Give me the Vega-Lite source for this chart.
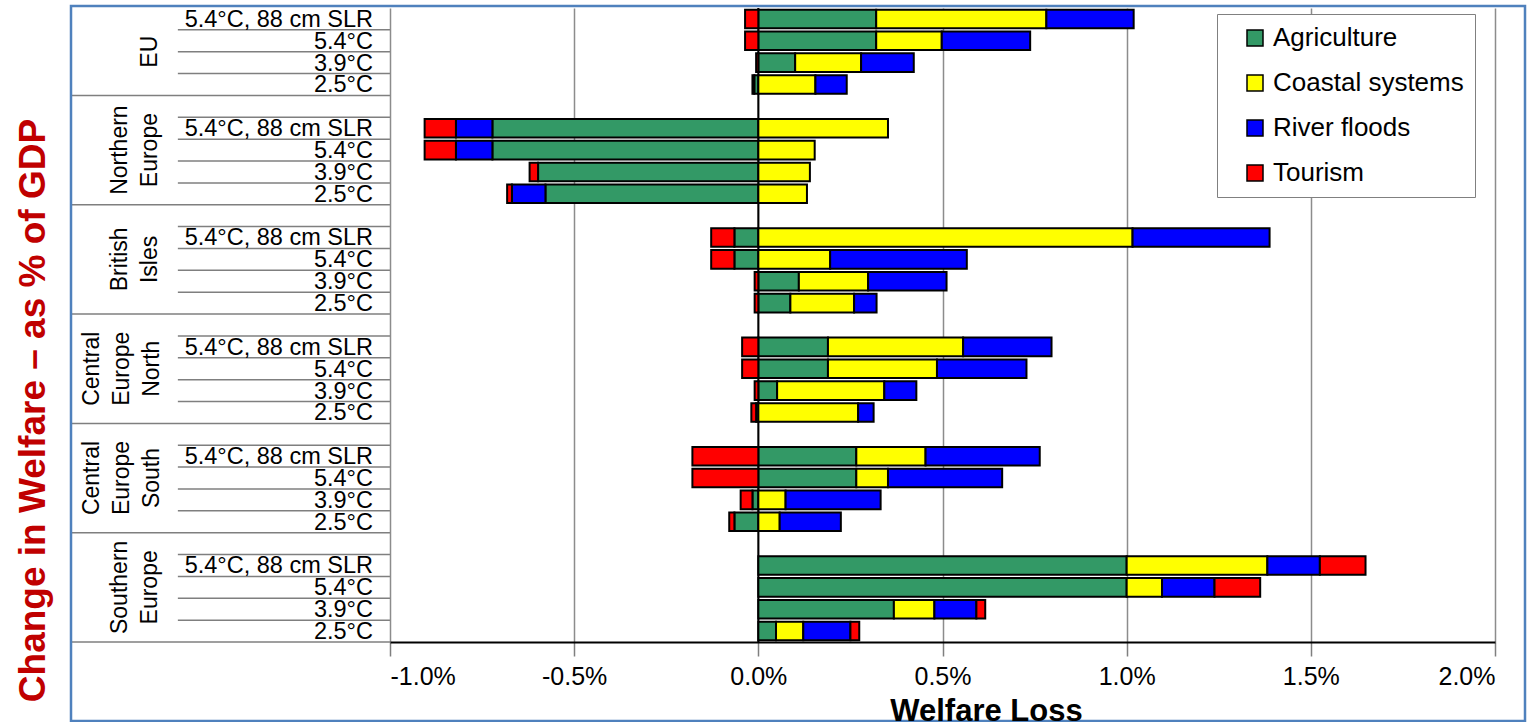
{
"$schema": "https://vega.github.io/schema/vega-lite/v6.json",
"padding": {"left": 14, "top": 4, "right": 0, "bottom": 0},
"background": "white",
"bounds": "flush",
"config": {"font": "Liberation Sans", "view": {"stroke": null}, "concat": {"spacing": 0}},
"data": {"values": [
{"region":"EU","scenario":"5.4°C, 88 cm SLR","sector":"Agriculture","value":0.32},
{"region":"EU","scenario":"5.4°C, 88 cm SLR","sector":"Coastal systems","value":0.462},
{"region":"EU","scenario":"5.4°C, 88 cm SLR","sector":"River floods","value":0.237},
{"region":"EU","scenario":"5.4°C, 88 cm SLR","sector":"Tourism","value":-0.036},
{"region":"EU","scenario":"5.4°C","sector":"Agriculture","value":0.32},
{"region":"EU","scenario":"5.4°C","sector":"Coastal systems","value":0.178},
{"region":"EU","scenario":"5.4°C","sector":"River floods","value":0.24},
{"region":"EU","scenario":"5.4°C","sector":"Tourism","value":-0.036},
{"region":"EU","scenario":"3.9°C","sector":"Agriculture","value":0.10},
{"region":"EU","scenario":"3.9°C","sector":"Coastal systems","value":0.179},
{"region":"EU","scenario":"3.9°C","sector":"River floods","value":0.143},
{"region":"EU","scenario":"3.9°C","sector":"Tourism","value":-0.006},
{"region":"EU","scenario":"2.5°C","sector":"Agriculture","value":-0.011},
{"region":"EU","scenario":"2.5°C","sector":"Coastal systems","value":0.155},
{"region":"EU","scenario":"2.5°C","sector":"River floods","value":0.085},
{"region":"EU","scenario":"2.5°C","sector":"Tourism","value":-0.005},
{"region":"Northern Europe","scenario":"5.4°C, 88 cm SLR","sector":"Agriculture","value":-0.722},
{"region":"Northern Europe","scenario":"5.4°C, 88 cm SLR","sector":"Coastal systems","value":0.352},
{"region":"Northern Europe","scenario":"5.4°C, 88 cm SLR","sector":"River floods","value":-0.099},
{"region":"Northern Europe","scenario":"5.4°C, 88 cm SLR","sector":"Tourism","value":-0.085},
{"region":"Northern Europe","scenario":"5.4°C","sector":"Agriculture","value":-0.722},
{"region":"Northern Europe","scenario":"5.4°C","sector":"Coastal systems","value":0.153},
{"region":"Northern Europe","scenario":"5.4°C","sector":"River floods","value":-0.099},
{"region":"Northern Europe","scenario":"5.4°C","sector":"Tourism","value":-0.085},
{"region":"Northern Europe","scenario":"3.9°C","sector":"Agriculture","value":-0.598},
{"region":"Northern Europe","scenario":"3.9°C","sector":"Coastal systems","value":0.14},
{"region":"Northern Europe","scenario":"3.9°C","sector":"Tourism","value":-0.023},
{"region":"Northern Europe","scenario":"2.5°C","sector":"Agriculture","value":-0.578},
{"region":"Northern Europe","scenario":"2.5°C","sector":"Coastal systems","value":0.132},
{"region":"Northern Europe","scenario":"2.5°C","sector":"River floods","value":-0.091},
{"region":"Northern Europe","scenario":"2.5°C","sector":"Tourism","value":-0.013},
{"region":"British Isles","scenario":"5.4°C, 88 cm SLR","sector":"Agriculture","value":-0.065},
{"region":"British Isles","scenario":"5.4°C, 88 cm SLR","sector":"Coastal systems","value":1.016},
{"region":"British Isles","scenario":"5.4°C, 88 cm SLR","sector":"River floods","value":0.372},
{"region":"British Isles","scenario":"5.4°C, 88 cm SLR","sector":"Tourism","value":-0.063},
{"region":"British Isles","scenario":"5.4°C","sector":"Agriculture","value":-0.065},
{"region":"British Isles","scenario":"5.4°C","sector":"Coastal systems","value":0.195},
{"region":"British Isles","scenario":"5.4°C","sector":"River floods","value":0.371},
{"region":"British Isles","scenario":"5.4°C","sector":"Tourism","value":-0.063},
{"region":"British Isles","scenario":"3.9°C","sector":"Agriculture","value":0.11},
{"region":"British Isles","scenario":"3.9°C","sector":"Coastal systems","value":0.188},
{"region":"British Isles","scenario":"3.9°C","sector":"River floods","value":0.213},
{"region":"British Isles","scenario":"3.9°C","sector":"Tourism","value":-0.01},
{"region":"British Isles","scenario":"2.5°C","sector":"Agriculture","value":0.087},
{"region":"British Isles","scenario":"2.5°C","sector":"Coastal systems","value":0.173},
{"region":"British Isles","scenario":"2.5°C","sector":"River floods","value":0.061},
{"region":"British Isles","scenario":"2.5°C","sector":"Tourism","value":-0.01},
{"region":"Central Europe North","scenario":"5.4°C, 88 cm SLR","sector":"Agriculture","value":0.189},
{"region":"Central Europe North","scenario":"5.4°C, 88 cm SLR","sector":"Coastal systems","value":0.367},
{"region":"Central Europe North","scenario":"5.4°C, 88 cm SLR","sector":"River floods","value":0.24},
{"region":"Central Europe North","scenario":"5.4°C, 88 cm SLR","sector":"Tourism","value":-0.044},
{"region":"Central Europe North","scenario":"5.4°C","sector":"Agriculture","value":0.189},
{"region":"Central Europe North","scenario":"5.4°C","sector":"Coastal systems","value":0.296},
{"region":"Central Europe North","scenario":"5.4°C","sector":"River floods","value":0.243},
{"region":"Central Europe North","scenario":"5.4°C","sector":"Tourism","value":-0.044},
{"region":"Central Europe North","scenario":"3.9°C","sector":"Agriculture","value":0.051},
{"region":"Central Europe North","scenario":"3.9°C","sector":"Coastal systems","value":0.291},
{"region":"Central Europe North","scenario":"3.9°C","sector":"River floods","value":0.087},
{"region":"Central Europe North","scenario":"3.9°C","sector":"Tourism","value":-0.01},
{"region":"Central Europe North","scenario":"2.5°C","sector":"Agriculture","value":-0.006},
{"region":"Central Europe North","scenario":"2.5°C","sector":"Coastal systems","value":0.271},
{"region":"Central Europe North","scenario":"2.5°C","sector":"River floods","value":0.042},
{"region":"Central Europe North","scenario":"2.5°C","sector":"Tourism","value":-0.013},
{"region":"Central Europe South","scenario":"5.4°C, 88 cm SLR","sector":"Agriculture","value":0.266},
{"region":"Central Europe South","scenario":"5.4°C, 88 cm SLR","sector":"Coastal systems","value":0.188},
{"region":"Central Europe South","scenario":"5.4°C, 88 cm SLR","sector":"River floods","value":0.31},
{"region":"Central Europe South","scenario":"5.4°C, 88 cm SLR","sector":"Tourism","value":-0.179},
{"region":"Central Europe South","scenario":"5.4°C","sector":"Agriculture","value":0.266},
{"region":"Central Europe South","scenario":"5.4°C","sector":"Coastal systems","value":0.086},
{"region":"Central Europe South","scenario":"5.4°C","sector":"River floods","value":0.31},
{"region":"Central Europe South","scenario":"5.4°C","sector":"Tourism","value":-0.179},
{"region":"Central Europe South","scenario":"3.9°C","sector":"Agriculture","value":-0.016},
{"region":"Central Europe South","scenario":"3.9°C","sector":"Coastal systems","value":0.074},
{"region":"Central Europe South","scenario":"3.9°C","sector":"River floods","value":0.258},
{"region":"Central Europe South","scenario":"3.9°C","sector":"Tourism","value":-0.032},
{"region":"Central Europe South","scenario":"2.5°C","sector":"Agriculture","value":-0.065},
{"region":"Central Europe South","scenario":"2.5°C","sector":"Coastal systems","value":0.058},
{"region":"Central Europe South","scenario":"2.5°C","sector":"River floods","value":0.166},
{"region":"Central Europe South","scenario":"2.5°C","sector":"Tourism","value":-0.014},
{"region":"Southern Europe","scenario":"5.4°C, 88 cm SLR","sector":"Agriculture","value":1.0},
{"region":"Southern Europe","scenario":"5.4°C, 88 cm SLR","sector":"Coastal systems","value":0.382},
{"region":"Southern Europe","scenario":"5.4°C, 88 cm SLR","sector":"River floods","value":0.1425},
{"region":"Southern Europe","scenario":"5.4°C, 88 cm SLR","sector":"Tourism","value":0.124},
{"region":"Southern Europe","scenario":"5.4°C","sector":"Agriculture","value":1.0},
{"region":"Southern Europe","scenario":"5.4°C","sector":"Coastal systems","value":0.096},
{"region":"Southern Europe","scenario":"5.4°C","sector":"River floods","value":0.1425},
{"region":"Southern Europe","scenario":"5.4°C","sector":"Tourism","value":0.124},
{"region":"Southern Europe","scenario":"3.9°C","sector":"Agriculture","value":0.368},
{"region":"Southern Europe","scenario":"3.9°C","sector":"Coastal systems","value":0.11},
{"region":"Southern Europe","scenario":"3.9°C","sector":"River floods","value":0.114},
{"region":"Southern Europe","scenario":"3.9°C","sector":"Tourism","value":0.024},
{"region":"Southern Europe","scenario":"2.5°C","sector":"Agriculture","value":0.048},
{"region":"Southern Europe","scenario":"2.5°C","sector":"Coastal systems","value":0.074},
{"region":"Southern Europe","scenario":"2.5°C","sector":"River floods","value":0.128},
{"region":"Southern Europe","scenario":"2.5°C","sector":"Tourism","value":0.024}
]},
"transform": [{"calculate": "datum.region + '|' + datum.scenario", "as": "key"}],
"hconcat": [
{
 "width": 319, "height": 634,
 "layer": [
  {"layer": [
   {"transform": [{"filter": "datum.sector === 'Agriculture' && datum.key !== 'EU|5.4°C, 88 cm SLR'"}],
    "mark": {"type": "rule", "color": "#7f7f7f", "strokeWidth": 1.5},
    "encoding": {
     "x": {"datum": 0.335, "type": "quantitative", "scale": {"domain": [0, 1]}, "axis": null},
     "x2": {"datum": 1},
     "y": {"field": "key", "type": "nominal", "bandPosition": 0, "axis": null,
      "scale": {"type": "band", "paddingInner": 0, "paddingOuter": 0, "domain": ["EU|5.4°C, 88 cm SLR","EU|5.4°C","EU|3.9°C","EU|2.5°C","g1","Northern Europe|5.4°C, 88 cm SLR","Northern Europe|5.4°C","Northern Europe|3.9°C","Northern Europe|2.5°C","g2","British Isles|5.4°C, 88 cm SLR","British Isles|5.4°C","British Isles|3.9°C","British Isles|2.5°C","g3","Central Europe North|5.4°C, 88 cm SLR","Central Europe North|5.4°C","Central Europe North|3.9°C","Central Europe North|2.5°C","g4","Central Europe South|5.4°C, 88 cm SLR","Central Europe South|5.4°C","Central Europe South|3.9°C","Central Europe South|2.5°C","g5","Southern Europe|5.4°C, 88 cm SLR","Southern Europe|5.4°C","Southern Europe|3.9°C","Southern Europe|2.5°C"]}}
    }},
   {"transform": [{"filter": "datum.sector === 'Agriculture' && datum.scenario === '2.5°C'"}],
    "mark": {"type": "rule", "color": "#7f7f7f", "strokeWidth": 1.5},
    "encoding": {
     "x": {"datum": 0, "type": "quantitative", "scale": {"domain": [0, 1]}, "axis": null},
     "x2": {"datum": 1},
     "y": {"field": "key", "type": "nominal", "bandPosition": 1, "axis": null,
      "scale": {"type": "band", "paddingInner": 0, "paddingOuter": 0, "domain": ["EU|5.4°C, 88 cm SLR","EU|5.4°C","EU|3.9°C","EU|2.5°C","g1","Northern Europe|5.4°C, 88 cm SLR","Northern Europe|5.4°C","Northern Europe|3.9°C","Northern Europe|2.5°C","g2","British Isles|5.4°C, 88 cm SLR","British Isles|5.4°C","British Isles|3.9°C","British Isles|2.5°C","g3","Central Europe North|5.4°C, 88 cm SLR","Central Europe North|5.4°C","Central Europe North|3.9°C","Central Europe North|2.5°C","g4","Central Europe South|5.4°C, 88 cm SLR","Central Europe South|5.4°C","Central Europe South|3.9°C","Central Europe South|2.5°C","g5","Southern Europe|5.4°C, 88 cm SLR","Southern Europe|5.4°C","Southern Europe|3.9°C","Southern Europe|2.5°C"]}}
    }},
   {"transform": [{"filter": "datum.sector === 'Agriculture'"}],
    "mark": {"type": "text", "align": "right", "baseline": "alphabetic", "dy": -3, "fontSize": 23.5, "color": "black"},
    "encoding": {
     "x": {"datum": 0.9467, "type": "quantitative", "scale": {"domain": [0, 1]}, "axis": null},
     "y": {"field": "key", "type": "nominal", "bandPosition": 1, "axis": null,
      "scale": {"type": "band", "paddingInner": 0, "paddingOuter": 0, "domain": ["EU|5.4°C, 88 cm SLR","EU|5.4°C","EU|3.9°C","EU|2.5°C","g1","Northern Europe|5.4°C, 88 cm SLR","Northern Europe|5.4°C","Northern Europe|3.9°C","Northern Europe|2.5°C","g2","British Isles|5.4°C, 88 cm SLR","British Isles|5.4°C","British Isles|3.9°C","British Isles|2.5°C","g3","Central Europe North|5.4°C, 88 cm SLR","Central Europe North|5.4°C","Central Europe North|3.9°C","Central Europe North|2.5°C","g4","Central Europe South|5.4°C, 88 cm SLR","Central Europe South|5.4°C","Central Europe South|3.9°C","Central Europe South|2.5°C","g5","Southern Europe|5.4°C, 88 cm SLR","Southern Europe|5.4°C","Southern Europe|3.9°C","Southern Europe|2.5°C"]}},
     "text": {"field": "scenario"}
    }},
   {"transform": [{"filter": "datum.sector === 'Agriculture' && datum.scenario === '5.4°C' && (datum.region === 'Northern Europe' || datum.region === 'British Isles' || datum.region === 'Southern Europe')"}],
    "mark": {"type": "text", "angle": 270, "align": "center", "baseline": "bottom", "lineBreak": " ", "lineHeight": 30, "fontSize": 23, "color": "black"},
    "encoding": {
     "x": {"datum": 0.1897, "type": "quantitative", "scale": {"domain": [0, 1]}, "axis": null},
     "y": {"field": "key", "type": "nominal", "bandPosition": 0.5, "axis": null,
      "scale": {"type": "band", "paddingInner": 0, "paddingOuter": 0, "domain": ["EU|5.4°C, 88 cm SLR","EU|5.4°C","EU|3.9°C","EU|2.5°C","g1","Northern Europe|5.4°C, 88 cm SLR","Northern Europe|5.4°C","Northern Europe|3.9°C","Northern Europe|2.5°C","g2","British Isles|5.4°C, 88 cm SLR","British Isles|5.4°C","British Isles|3.9°C","British Isles|2.5°C","g3","Central Europe North|5.4°C, 88 cm SLR","Central Europe North|5.4°C","Central Europe North|3.9°C","Central Europe North|2.5°C","g4","Central Europe South|5.4°C, 88 cm SLR","Central Europe South|5.4°C","Central Europe South|3.9°C","Central Europe South|2.5°C","g5","Southern Europe|5.4°C, 88 cm SLR","Southern Europe|5.4°C","Southern Europe|3.9°C","Southern Europe|2.5°C"]}},
     "text": {"field": "region"}
    }},
   {"transform": [{"filter": "datum.sector === 'Agriculture' && datum.scenario === '5.4°C' && (datum.region === 'Central Europe North' || datum.region === 'Central Europe South')"}],
    "mark": {"type": "text", "angle": 270, "align": "center", "baseline": "bottom", "lineBreak": " ", "lineHeight": 30, "fontSize": 23, "color": "black"},
    "encoding": {
     "x": {"datum": 0.1019, "type": "quantitative", "scale": {"domain": [0, 1]}, "axis": null},
     "y": {"field": "key", "type": "nominal", "bandPosition": 0.5, "axis": null,
      "scale": {"type": "band", "paddingInner": 0, "paddingOuter": 0, "domain": ["EU|5.4°C, 88 cm SLR","EU|5.4°C","EU|3.9°C","EU|2.5°C","g1","Northern Europe|5.4°C, 88 cm SLR","Northern Europe|5.4°C","Northern Europe|3.9°C","Northern Europe|2.5°C","g2","British Isles|5.4°C, 88 cm SLR","British Isles|5.4°C","British Isles|3.9°C","British Isles|2.5°C","g3","Central Europe North|5.4°C, 88 cm SLR","Central Europe North|5.4°C","Central Europe North|3.9°C","Central Europe North|2.5°C","g4","Central Europe South|5.4°C, 88 cm SLR","Central Europe South|5.4°C","Central Europe South|3.9°C","Central Europe South|2.5°C","g5","Southern Europe|5.4°C, 88 cm SLR","Southern Europe|5.4°C","Southern Europe|3.9°C","Southern Europe|2.5°C"]}},
     "text": {"field": "region"}
    }},
   {"transform": [{"filter": "datum.sector === 'Agriculture' && datum.scenario === '5.4°C' && datum.region === 'EU'"}],
    "mark": {"type": "text", "angle": 270, "align": "center", "baseline": "bottom", "lineBreak": " ", "lineHeight": 30, "fontSize": 23, "color": "black"},
    "encoding": {
     "x": {"datum": 0.2837, "type": "quantitative", "scale": {"domain": [0, 1]}, "axis": null},
     "y": {"field": "key", "type": "nominal", "bandPosition": 1, "axis": null,
      "scale": {"type": "band", "paddingInner": 0, "paddingOuter": 0, "domain": ["EU|5.4°C, 88 cm SLR","EU|5.4°C","EU|3.9°C","EU|2.5°C","g1","Northern Europe|5.4°C, 88 cm SLR","Northern Europe|5.4°C","Northern Europe|3.9°C","Northern Europe|2.5°C","g2","British Isles|5.4°C, 88 cm SLR","British Isles|5.4°C","British Isles|3.9°C","British Isles|2.5°C","g3","Central Europe North|5.4°C, 88 cm SLR","Central Europe North|5.4°C","Central Europe North|3.9°C","Central Europe North|2.5°C","g4","Central Europe South|5.4°C, 88 cm SLR","Central Europe South|5.4°C","Central Europe South|3.9°C","Central Europe South|2.5°C","g5","Southern Europe|5.4°C, 88 cm SLR","Southern Europe|5.4°C","Southern Europe|3.9°C","Southern Europe|2.5°C"]}},
     "text": {"field": "region"}
    }}
  ]},
  {"data": {"values": [{}]},
   "mark": {"type": "rect", "filled": false, "stroke": "#4f81bd", "strokeWidth": 2.5, "clip": false},
   "encoding": {
    "x": {"datum": 0, "type": "quantitative", "scale": {"domain": [0, 1]}, "axis": null},
    "x2": {"datum": 4.558},
    "y": {"datum": 1.003, "type": "quantitative", "scale": {"domain": [0, 1]},
     "axis": {"labels": false, "ticks": false, "domain": false, "grid": false,
      "title": "Change in Welfare – as % of GDP", "titleColor": "#c00000", "titleFontSize": 37,
      "titleFontWeight": "bold", "titlePadding": 19, "titleY": 402, "titleFont": "Liberation Sans"}},
    "y2": {"datum": -0.1246}
   }}
 ],
 "resolve": {"scale": {"y": "independent"}, "axis": {"y": "independent"}}
},
{
 "width": 1105, "height": 634,
 "layer": [
  {"data": {"values": [{}]},
   "mark": {"type": "rule", "color": "black", "strokeWidth": 2},
   "encoding": {"x": {"datum": 0, "type": "quantitative"}}},
  {"mark": {"type": "bar", "stroke": "black", "strokeWidth": 2},
   "encoding": {
    "y": {"field": "key", "type": "nominal", "axis": null,
     "scale": {"type": "band", "paddingInner": 0.15, "paddingOuter": 0.075, "domain": ["EU|5.4°C, 88 cm SLR","EU|5.4°C","EU|3.9°C","EU|2.5°C","g1","Northern Europe|5.4°C, 88 cm SLR","Northern Europe|5.4°C","Northern Europe|3.9°C","Northern Europe|2.5°C","g2","British Isles|5.4°C, 88 cm SLR","British Isles|5.4°C","British Isles|3.9°C","British Isles|2.5°C","g3","Central Europe North|5.4°C, 88 cm SLR","Central Europe North|5.4°C","Central Europe North|3.9°C","Central Europe North|2.5°C","g4","Central Europe South|5.4°C, 88 cm SLR","Central Europe South|5.4°C","Central Europe South|3.9°C","Central Europe South|2.5°C","g5","Southern Europe|5.4°C, 88 cm SLR","Southern Europe|5.4°C","Southern Europe|3.9°C","Southern Europe|2.5°C"]}},
    "x": {"field": "value", "type": "quantitative", "aggregate": "sum", "stack": "zero",
     "scale": {"domain": [-1, 2], "nice": false, "zero": false},
     "axis": {"values": [-1, -0.5, 0, 0.5, 1, 1.5, 2],
      "labelExpr": "replace(format(datum.value, '.1f'), '−', '-') + '%'",
      "labelFontSize": 25, "labelColor": "black", "labelPadding": 8,
      "tickSize": 14, "tickColor": "#7f7f7f", "tickWidth": 1.5,
      "domainColor": "black", "domainWidth": 2,
      "grid": true, "gridColor": "#8c8c8c", "gridWidth": 1.5,
      "title": "Welfare Loss", "titleFontSize": 31, "titleFontWeight": "bold", "titleColor": "black",
      "titleX": 596, "titleY": 78, "titleBaseline": "alphabetic", "titleAlign": "center"}},
    "color": {"field": "sector", "type": "nominal",
     "scale": {"domain": ["Agriculture", "Coastal systems", "River floods", "Tourism"], "range": ["#339966", "#ffff00", "#0000ff", "#ff0000"]},
     "legend": {"orient": "none", "legendX": 1146, "legendY": 6, "title": null,
      "labelFontSize": 26, "labelColor": "black", "labelLimit": 400, "symbolType": "square", "symbolSize": 256,
      "symbolStrokeColor": "black", "symbolStrokeWidth": 1.5, "symbolOffset": 14, "labelOffset": 5,
      "rowPadding": 19, "padding": 11, "strokeColor": "#808080", "fillColor": "white"}},
    "order": {"field": "sector", "sort": "ascending"}
   }}
 ]
}
]
}
